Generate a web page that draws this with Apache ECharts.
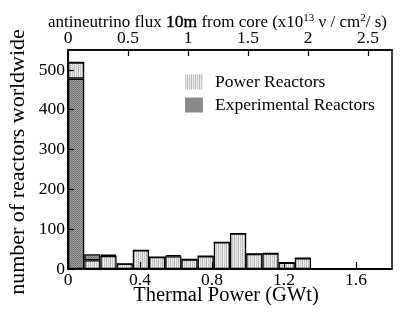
<!DOCTYPE html>
<html><head><meta charset="utf-8">
<script src="https://cdn.jsdelivr.net/npm/echarts@6/dist/echarts.min.js"></script>
<style>html,body{margin:0;padding:0;background:#fff}#c{width:415px;height:314px}</style>
</head><body><div id="c"></div>
<script>
// Histogram bins of thermal power, 0.09 GWt wide, 0 .. 1.8 GWt
const binLabels = ['0-0.09','0.09-0.18','0.18-0.27','0.27-0.36','0.36-0.45','0.45-0.54','0.54-0.63','0.63-0.72','0.72-0.81','0.81-0.9','0.9-0.99','0.99-1.08','1.08-1.17','1.17-1.26','1.26-1.35','1.35-1.44','1.44-1.53','1.53-1.62','1.62-1.71','1.71-1.8'];
const experimentalBelow = [478,0,0,0,0,0,0,0,0,0,0,0,0,0,0,0,0,0,0,0];
const powerReactors     = [41,22,33,13,47,30,32,24,32,67,89,38,39,16,27,0,0,0,0,0];
const experimentalAbove = [0,15,3,0,0,0,3,0,0,0,0,0,0,0,0,0,2,0,0,0];
const powerTicks = ['0','0.4','0.8','1.2','1.6'];
const fluxTicks = ['0','0.5','1','1.5','2','2.5'];
const yTicks = ['0','100','200','300','400','500'];

function makePattern(cells, w, h){
  const c = document.createElement('canvas'); c.width = w; c.height = h;
  const g = c.getContext('2d');
  for (let y=0;y<h;y++) for (let x=0;x<w;x++){ g.fillStyle = cells[y][x]; g.fillRect(x,y,1,1); }
  return {image: c, repeat: 'repeat'};
}
const lightPat = makePattern([
  ['#b8b8b8','#ececec','#c4c4c4','#f0f0f0'],
  ['#d8d8d8','#e8e8e8','#a8a8a8','#ececec']
],4,2);
const darkPat = makePattern([
  ['#7a7a7a','#a4a4a4'],
  ['#9c9c9c','#6e6e6e']
],2,2);

const FONT = 'Liberation Serif';
const chart = echarts.init(document.getElementById('c'), null, {renderer:'canvas'});
const barStyle = (pat) => ({color: pat, borderColor: '#000', borderWidth: 1.3});
chart.setOption({
  animation: false,
  backgroundColor: '#fff',
  grid: {left: 68, right: 23, top: 50, bottom: 45, show: true, borderColor: '#000', borderWidth: 1.5, backgroundColor: 'transparent'},
  legend: {
    orient: 'vertical', left: 180, top: 68, itemWidth: 18, itemHeight: 15, itemGap: 5,
    icon: 'rect',
    data: ['Power Reactors', 'Experimental Reactors'],
    itemStyle: {borderWidth: 0},
    textStyle: {fontFamily: FONT, fontSize: 17.5, color: '#000', lineHeight: 15, padding: [0,0,0,7]},
    selectedMode: false
  },
  xAxis: [
    {type: 'category', data: binLabels, show: false, boundaryGap: true},
    {type: 'value', position: 'bottom', min: 0, max: 1.8, interval: 0.4, z: 10,
     axisLine: {show: true, onZero: false, lineStyle: {color: '#000', width: 1.5}},
     axisTick: {show: true, inside: true, length: 7, lineStyle: {color: '#000', width: 1.2}},
     splitLine: {show: false}, axisLabel: {showMaxLabel: false, margin: 2, fontFamily: FONT, fontSize: 17.5, color: '#000',
       formatter: (v) => powerTicks.find(t => Math.abs(parseFloat(t) - v) < 1e-6) || ''}},
    {type: 'value', position: 'top', min: 0, max: 2.7, interval: 0.5, z: 10,
     axisLine: {show: true, onZero: false, lineStyle: {color: '#000', width: 1.5}},
     axisTick: {show: true, inside: true, length: 6, lineStyle: {color: '#000', width: 1.2}},
     splitLine: {show: false}, axisLabel: {showMaxLabel: false, margin: 3, fontFamily: FONT, fontSize: 17.5, color: '#000',
       formatter: (v) => fluxTicks.find(t => Math.abs(parseFloat(t) - v) < 1e-6) || ''}}
  ],
  yAxis: {type: 'value', min: 0, max: 550, interval: 100, z: 10,
    axisLine: {show: true, lineStyle: {color: '#000', width: 1.5}},
    axisTick: {show: true, inside: true, length: 6, lineStyle: {color: '#000', width: 1.2}},
    splitLine: {show: false},
    axisLabel: {showMaxLabel: false, margin: 3, fontFamily: FONT, fontSize: 17.5, color: '#000',
      formatter: (v) => yTicks.find(t => parseFloat(t) === v) || ''}},
  graphic: [
    {type: 'text', left: 48, top: 13, z: 20, style: {
      text: '{a|antineutrino flux }{b|10m}{a| from core (x10}{s|13}{a| ν / cm}{s|2}{a|/ s)}',
      rich: {
        a: {fontFamily: FONT, fontSize: 17, fill: '#000'},
        b: {fontFamily: FONT, fontSize: 17.5, fill: '#000', textStrokeWidth: 0.4, textStroke: '#000', stroke: '#000', lineWidth: 0.4},
        s: {fontFamily: FONT, fontSize: 11, fill: '#000', verticalAlign: 'top', padding: [0,0,8,0]}
      }}},
    {type: 'text', x: 226, y: 296, z: 20, style: {text: 'Thermal Power (GWt)', fontFamily: FONT, fontSize: 20.5, fill: '#000', align: 'center', verticalAlign: 'middle'}},
    {type: 'text', x: 18, y: 162, rotation: Math.PI/2, z: 20, style: {text: 'number of reactors worldwide', fontFamily: FONT, fontSize: 22, fill: '#000', align: 'center', verticalAlign: 'middle'}}
  ],
  series: [
    {name: 'Experimental Reactors', type: 'bar', stack: 'h', xAxisIndex: 0, data: experimentalBelow, itemStyle: barStyle(darkPat), barCategoryGap: '0%', barWidth: '100%'},
    {name: 'Power Reactors', type: 'bar', stack: 'h', xAxisIndex: 0, data: powerReactors, itemStyle: barStyle(lightPat), barCategoryGap: '0%', barWidth: '100%'},
    {name: 'Experimental Reactors', type: 'bar', stack: 'h', xAxisIndex: 0, data: experimentalAbove, itemStyle: barStyle(darkPat), barCategoryGap: '0%', barWidth: '100%'}
  ]
});
</script></body></html>
